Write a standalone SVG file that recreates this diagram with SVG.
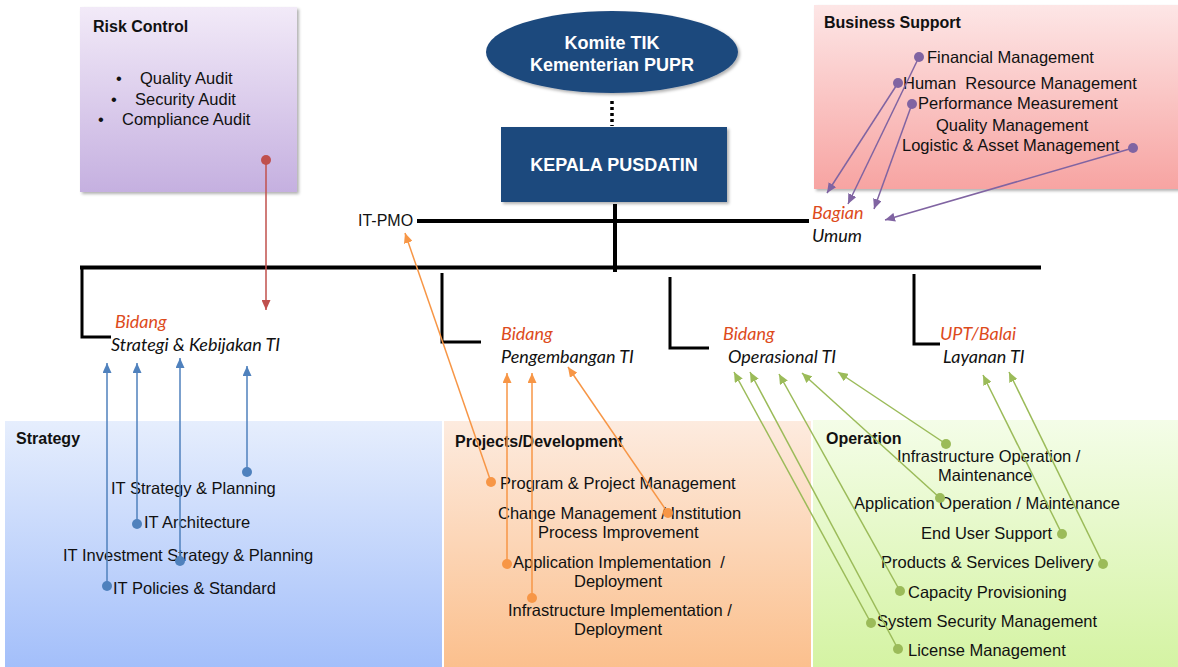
<svg xmlns="http://www.w3.org/2000/svg" width="1178" height="667" viewBox="0 0 1178 667">
  <defs>
    <linearGradient id="gRisk" x1="0" y1="0" x2="0" y2="1">
      <stop offset="0" stop-color="#f2eaf8"/>
      <stop offset="1" stop-color="#c5b0e0"/>
    </linearGradient>
    <linearGradient id="gBiz" x1="0" y1="0" x2="0" y2="1">
      <stop offset="0" stop-color="#fde6e6"/>
      <stop offset="1" stop-color="#f7a4a2"/>
    </linearGradient>
    <linearGradient id="gStrat" x1="0" y1="0" x2="0" y2="1">
      <stop offset="0" stop-color="#e6eefd"/>
      <stop offset="1" stop-color="#a2befa"/>
    </linearGradient>
    <linearGradient id="gProj" x1="0" y1="0" x2="0" y2="1">
      <stop offset="0" stop-color="#fdebdf"/>
      <stop offset="1" stop-color="#fbbf8c"/>
    </linearGradient>
    <linearGradient id="gOps" x1="0" y1="0" x2="0" y2="1">
      <stop offset="0" stop-color="#f4fde8"/>
      <stop offset="1" stop-color="#d4f3a2"/>
    </linearGradient>
    <filter id="shadow" x="-5%" y="-5%" width="115%" height="115%">
      <feDropShadow dx="2" dy="2" stdDeviation="1.5" flood-color="#000" flood-opacity="0.3"/>
    </filter>
    <marker id="arRed" markerUnits="userSpaceOnUse" markerWidth="10" markerHeight="9" refX="10" refY="4.5" orient="auto">
      <path d="M0,0 L10,4.5 L0,9 z" fill="#c0504d"/>
    </marker>
    <marker id="arPur" markerUnits="userSpaceOnUse" markerWidth="10" markerHeight="9" refX="10" refY="4.5" orient="auto">
      <path d="M0,0 L10,4.5 L0,9 z" fill="#8064a2"/>
    </marker>
    <marker id="arBlue" markerUnits="userSpaceOnUse" markerWidth="10" markerHeight="9" refX="10" refY="4.5" orient="auto">
      <path d="M0,0 L10,4.5 L0,9 z" fill="#4f81bd"/>
    </marker>
    <marker id="arOra" markerUnits="userSpaceOnUse" markerWidth="10" markerHeight="9" refX="10" refY="4.5" orient="auto">
      <path d="M0,0 L10,4.5 L0,9 z" fill="#f79646"/>
    </marker>
    <marker id="arGrn" markerUnits="userSpaceOnUse" markerWidth="10" markerHeight="9" refX="10" refY="4.5" orient="auto">
      <path d="M0,0 L10,4.5 L0,9 z" fill="#9bbb59"/>
    </marker>
    <marker id="dRed" markerUnits="userSpaceOnUse" markerWidth="12" markerHeight="12" refX="6" refY="6"><circle cx="6" cy="6" r="5" fill="#c0504d"/></marker>
    <marker id="dPur" markerUnits="userSpaceOnUse" markerWidth="12" markerHeight="12" refX="6" refY="6"><circle cx="6" cy="6" r="5" fill="#8064a2"/></marker>
    <marker id="dBlue" markerUnits="userSpaceOnUse" markerWidth="12" markerHeight="12" refX="6" refY="6"><circle cx="6" cy="6" r="5" fill="#4f81bd"/></marker>
    <marker id="dOra" markerUnits="userSpaceOnUse" markerWidth="12" markerHeight="12" refX="6" refY="6"><circle cx="6" cy="6" r="5" fill="#f79646"/></marker>
    <marker id="dGrn" markerUnits="userSpaceOnUse" markerWidth="12" markerHeight="12" refX="6" refY="6"><circle cx="6" cy="6" r="5" fill="#9bbb59"/></marker>
  </defs>
  <style>
    text { font-family: "Liberation Sans", Arial, sans-serif; fill: #111; }
    .t { font-size: 16.5px; }
    .h { font-size: 16px; font-weight: bold; }
    .w { font-size: 18px; font-weight: bold; fill: #fff; }
    .lb { font-family: Lato, "Liberation Sans", sans-serif; font-style: italic; font-size: 18px; }
    .red { fill: #dd4b1c; }
    .org { stroke: #000; fill: none; }
    .cn { fill: none; stroke-width: 1.5; }
    .cRed { stroke: #c0504d; marker-start: url(#dRed); marker-end: url(#arRed); }
    .cPur { stroke: #8064a2; marker-start: url(#dPur); marker-end: url(#arPur); }
    .cBlue { stroke: #4f81bd; marker-start: url(#dBlue); marker-end: url(#arBlue); }
    .cOra { stroke: #f79646; marker-start: url(#dOra); marker-end: url(#arOra); }
    .cGrn { stroke: #9bbb59; marker-start: url(#dGrn); marker-end: url(#arGrn); }
  </style>

  <rect width="1178" height="667" fill="#fff"/>

  <!-- lower function panels -->
  <g id="strategy">
    <rect x="5" y="421" width="437" height="250" fill="url(#gStrat)"/>
    <text class="h" x="16" y="444">Strategy</text>
    <text class="t" x="111" y="494">IT Strategy &amp; Planning</text>
    <text class="t" x="144" y="528">IT Architecture</text>
    <text class="t" x="63" y="561">IT Investment Strategy &amp; Planning</text>
    <text class="t" x="113" y="594">IT Policies &amp; Standard</text>
  </g>
  <g id="projects">
    <rect x="444" y="421" width="367" height="250" fill="url(#gProj)"/>
    <text class="h" x="455" y="447">Projects/Development</text>
    <text class="t" x="500" y="489">Program &amp; Project Management</text>
    <text class="t" x="498" y="519">Change Management / Institution</text>
    <text class="t" x="538" y="538">Process Improvement</text>
    <text class="t" x="513" y="568" xml:space="preserve">Application Implementation  /</text>
    <text class="t" x="574" y="587">Deployment</text>
    <text class="t" x="508" y="616">Infrastructure Implementation /</text>
    <text class="t" x="574" y="635">Deployment</text>
  </g>
  <g id="operation">
    <rect x="813" y="420" width="370" height="251" fill="url(#gOps)"/>
    <text class="h" x="826" y="444">Operation</text>
    <text class="t" x="897" y="462">Infrastructure Operation /</text>
    <text class="t" x="938" y="481">Maintenance</text>
    <text class="t" x="854" y="509">Application Operation / Maintenance</text>
    <text class="t" x="921" y="539">End User Support</text>
    <text class="t" x="881" y="568">Products &amp; Services Delivery</text>
    <text class="t" x="908" y="598">Capacity Provisioning</text>
    <text class="t" x="877" y="627">System Security Management</text>
    <text class="t" x="908" y="656">License Management</text>
  </g>

  <!-- upper panels -->
  <g id="risk-control">
    <rect x="80" y="7" width="217" height="185" fill="url(#gRisk)" filter="url(#shadow)"/>
    <text class="h" x="93" y="32">Risk Control</text>
    <text class="t" x="116" y="84">•</text>
    <text class="t" x="140" y="84">Quality Audit</text>
    <text class="t" x="111" y="105">•</text>
    <text class="t" x="135" y="105">Security Audit</text>
    <text class="t" x="98" y="125">•</text>
    <text class="t" x="122" y="125">Compliance Audit</text>
  </g>
  <g id="business-support">
    <rect x="814" y="5" width="370" height="184" fill="url(#gBiz)" filter="url(#shadow)"/>
    <text class="h" x="824" y="28">Business Support</text>
    <text class="t" x="927" y="63">Financial Management</text>
    <text class="t" x="903" y="89" xml:space="preserve">Human  Resource Management</text>
    <text class="t" x="918" y="109">Performance Measurement</text>
    <text class="t" x="936" y="131">Quality Management</text>
    <text class="t" x="902" y="151">Logistic &amp; Asset Management</text>
  </g>

  <g id="komite-tik">
    <ellipse cx="612" cy="52" rx="126" ry="41" fill="#1f497d" filter="url(#shadow)"/>
    <text class="w" x="612" y="49" text-anchor="middle">Komite TIK</text>
    <text class="w" x="612" y="71" text-anchor="middle">Kementerian PUPR</text>
  </g>
  <g id="kepala-pusdatin">
    <rect x="501" y="127" width="226" height="75" fill="#1f497d" filter="url(#shadow)"/>
    <text class="w" x="614" y="171" text-anchor="middle">KEPALA PUSDATIN</text>
  </g>

  <g id="it-pmo">
    <text class="t" x="358" y="226" style="font-size:16px">IT-PMO</text>
  </g>
  <g id="bagian-umum">
    <text class="lb red" x="812" y="219">Bagian</text>
    <text class="lb" x="812" y="242">Umum</text>
  </g>
  <g id="bidang-strategi">
    <text class="lb red" x="115" y="328">Bidang</text>
    <text class="lb" x="111" y="351">Strategi &amp; Kebijakan TI</text>
  </g>
  <g id="bidang-pengembangan">
    <text class="lb red" x="501" y="340">Bidang</text>
    <text class="lb" x="501" y="363">Pengembangan TI</text>
  </g>
  <g id="bidang-operasional">
    <text class="lb red" x="723" y="340">Bidang</text>
    <text class="lb" x="728" y="363">Operasional TI</text>
  </g>
  <g id="upt-balai">
    <text class="lb red" x="940" y="340">UPT/Balai</text>
    <text class="lb" x="943" y="363">Layanan TI</text>
  </g>

  <g id="connectors">
    <!-- reporting lines -->
    <path class="org" d="M612,101 V126" stroke-width="3.5" stroke-dasharray="3,3"/>
    <path class="org" d="M615,204 V272" stroke-width="4"/>
    <path class="org" d="M417,221 H809" stroke-width="4"/>
    <path class="org" d="M80,267.5 H1041" stroke-width="4"/>
    <path class="org" d="M82,266 V337 H111" stroke-width="3"/>
    <path class="org" d="M442,273 V342 H481" stroke-width="3"/>
    <path class="org" d="M670,277 V348 H709" stroke-width="3"/>
    <path class="org" d="M914,274 V344 H940" stroke-width="3"/>

    <!-- risk control -->
    <path class="cn cRed" d="M266,160 L266,310"/>
    <!-- business support -->
    <path class="cn cPur" d="M898,83 L827,193"/>
    <path class="cn cPur" d="M919,57 L848,204"/>
    <path class="cn cPur" d="M912,104 L874,209"/>
    <path class="cn cPur" d="M1133,148 L885,220"/>
    <!-- strategy -->
    <path class="cn cBlue" d="M247,472 L247,366"/>
    <path class="cn cBlue" d="M137,524 L137,363"/>
    <path class="cn cBlue" d="M180,561 L180,358"/>
    <path class="cn cBlue" d="M107,586 L107,363"/>
    <!-- projects / development -->
    <path class="cn cOra" d="M491,482 L405,233"/>
    <path class="cn cOra" d="M668,513 L568,367"/>
    <path class="cn cOra" d="M507,564 L507,373"/>
    <path class="cn cOra" d="M532,598 L532,373"/>
    <!-- operation -->
    <path class="cn cGrn" d="M946,444 L838,372"/>
    <path class="cn cGrn" d="M940,498 L802,373"/>
    <path class="cn cGrn" d="M900,591 L779,374"/>
    <path class="cn cGrn" d="M871,623 L734,372"/>
    <path class="cn cGrn" d="M898,649 L750,372"/>
    <path class="cn cGrn" d="M1062,534 L983,375"/>
    <path class="cn cGrn" d="M1103,564 L1009,372"/>
  </g>
</svg>
